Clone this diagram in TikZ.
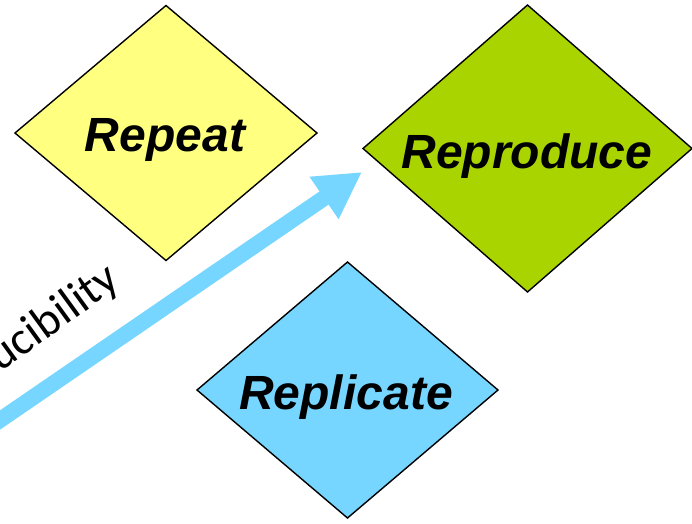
\documentclass[tikz,border=0pt]{standalone}
\usepackage{fontspec}
\setmainfont{Liberation Sans}
\newfontfamily\carlito{Carlito}
\usetikzlibrary{shapes.geometric,arrows.meta}

\definecolor{repeatfill}{HTML}{FFFF80}
\definecolor{reprofill}{HTML}{AAD400}
\definecolor{replifill}{HTML}{77D6FF}
\definecolor{arrowblue}{HTML}{77D6FF}

\tikzset{
  rhomb/.style={diamond, draw=black, line width=1.4pt, inner sep=0pt, outer sep=0pt},
  rlabel/.style={anchor=base, inner sep=0pt,
    font=\fontsize{48}{52}\selectfont\bfseries\itshape},
  bigarrow/.style={draw=arrowblue, line width=16pt,
    -{Triangle[length=46pt,width=48pt]}},
  arrowtext/.style={inner sep=0pt, font=\carlito\fontsize{47}{52}\selectfont}
}

\begin{document}
\begin{tikzpicture}[x=1pt, y=-1pt]
  \useasboundingbox (0,0) rectangle (692,523);
  \clip (0,0) rectangle (692,523);

  % the three diamonds
  \node[rhomb, fill=repeatfill, minimum width=302pt, minimum height=255pt] (repeat) at (166,133) {};
  \node[rhomb, fill=reprofill, minimum width=329pt, minimum height=287pt] (reproduce) at (527.5,148.5) {};
  \node[rhomb, fill=replifill, minimum width=301pt, minimum height=256pt] (replicate) at (347.5,390) {};

  \node[rlabel] (repeatlbl) at (165,151) {Repeat};
  \node[rlabel] (reprolbl) at (527,168) {Reproduce};
  \node[rlabel] (replilbl) at (346,409) {Replicate};

  % rising arrow with its caption
  \coordinate (tail) at (-12,428.2);
  \coordinate (tip) at (362,172);
  \draw[bigarrow] (tail) -- (tip);
  \node[arrowtext, rotate=36, anchor=base east] (axis) at (122,285) {ucibility};
\end{tikzpicture}
\end{document}
